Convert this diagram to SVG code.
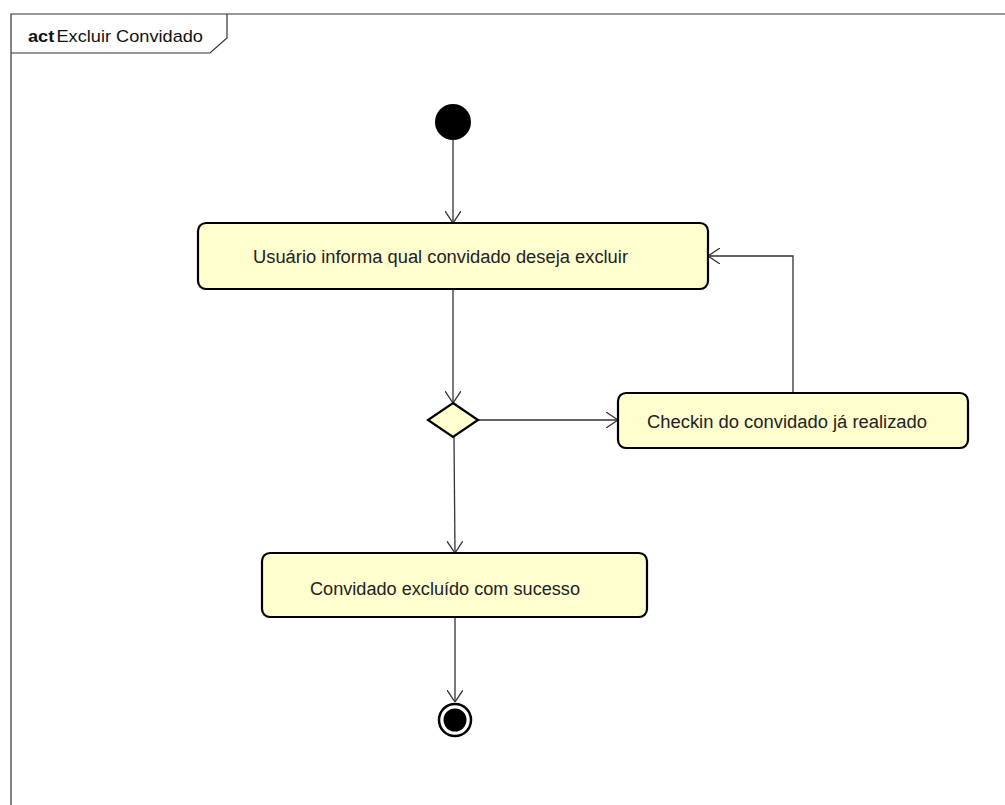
<svg xmlns="http://www.w3.org/2000/svg" width="1005" height="805" viewBox="0 0 1005 805">
<style>
.frame{fill:none;stroke:#333;stroke-width:1.2}
.act{fill:#fefecf;stroke:#000;stroke-width:2.2}
.lbl{font-family:"Liberation Sans",Arial,sans-serif;font-size:18px;fill:#222}
.edge{fill:none;stroke:#333;stroke-width:1.3}
</style>
<defs>
<marker id="arr" viewBox="0 0 12 16" refX="12" refY="8" markerWidth="12" markerHeight="16" markerUnits="userSpaceOnUse" orient="auto">
<path d="M0,0 L12,8 L0,16" fill="none" stroke="#333" stroke-width="1.3"/>
</marker>
</defs>
<rect width="1005" height="805" fill="#fff"/>
<g id="frame">
<path class="frame" d="M11,805 L11,14 L1005,14"/>
<path class="frame" d="M11,53 L210,53 L227,38 L227,14"/>
<text x="28" y="42" font-family="'Liberation Sans',Arial,sans-serif" font-size="17" fill="#111" textLength="175" lengthAdjust="spacingAndGlyphs"><tspan font-weight="bold">act</tspan><tspan dx="2">Excluir Convidado</tspan></text>
</g>
<g id="connectors">
<path class="edge" d="M453,140 L453,223" marker-end="url(#arr)"/>
<path class="edge" d="M453,289 L453,403" marker-end="url(#arr)"/>
<path class="edge" d="M478,420 L618,420" marker-end="url(#arr)"/>
<path class="edge" d="M793,393 L793,256 L708,256" marker-end="url(#arr)"/>
<path class="edge" d="M454,437 L455,553" marker-end="url(#arr)"/>
<path class="edge" d="M455,617 L455,702" marker-end="url(#arr)"/>
</g>
<g id="start"><circle cx="453" cy="122" r="18" fill="#000"/></g>
<g id="a1">
<rect class="act" x="198" y="223" width="510" height="66" rx="8"/>
<text class="lbl" x="253" y="263" textLength="375" lengthAdjust="spacingAndGlyphs">Usuário informa qual convidado deseja excluir</text>
</g>
<g id="decision"><polygon points="453,403 478,420 453,437 428,420" fill="#fefecf" stroke="#000" stroke-width="2.2"/></g>
<g id="a2">
<rect class="act" x="618" y="393" width="350" height="55" rx="8"/>
<text class="lbl" x="647" y="428" textLength="280" lengthAdjust="spacingAndGlyphs">Checkin do convidado já realizado</text>
</g>
<g id="a3">
<rect class="act" x="262" y="553" width="385" height="64" rx="8"/>
<text class="lbl" x="310" y="595" textLength="270" lengthAdjust="spacingAndGlyphs">Convidado excluído com sucesso</text>
</g>
<g id="end">
<circle cx="455" cy="720" r="16" fill="none" stroke="#000" stroke-width="2.5"/>
<circle cx="455" cy="720" r="11.5" fill="#000"/>
</g>
</svg>
